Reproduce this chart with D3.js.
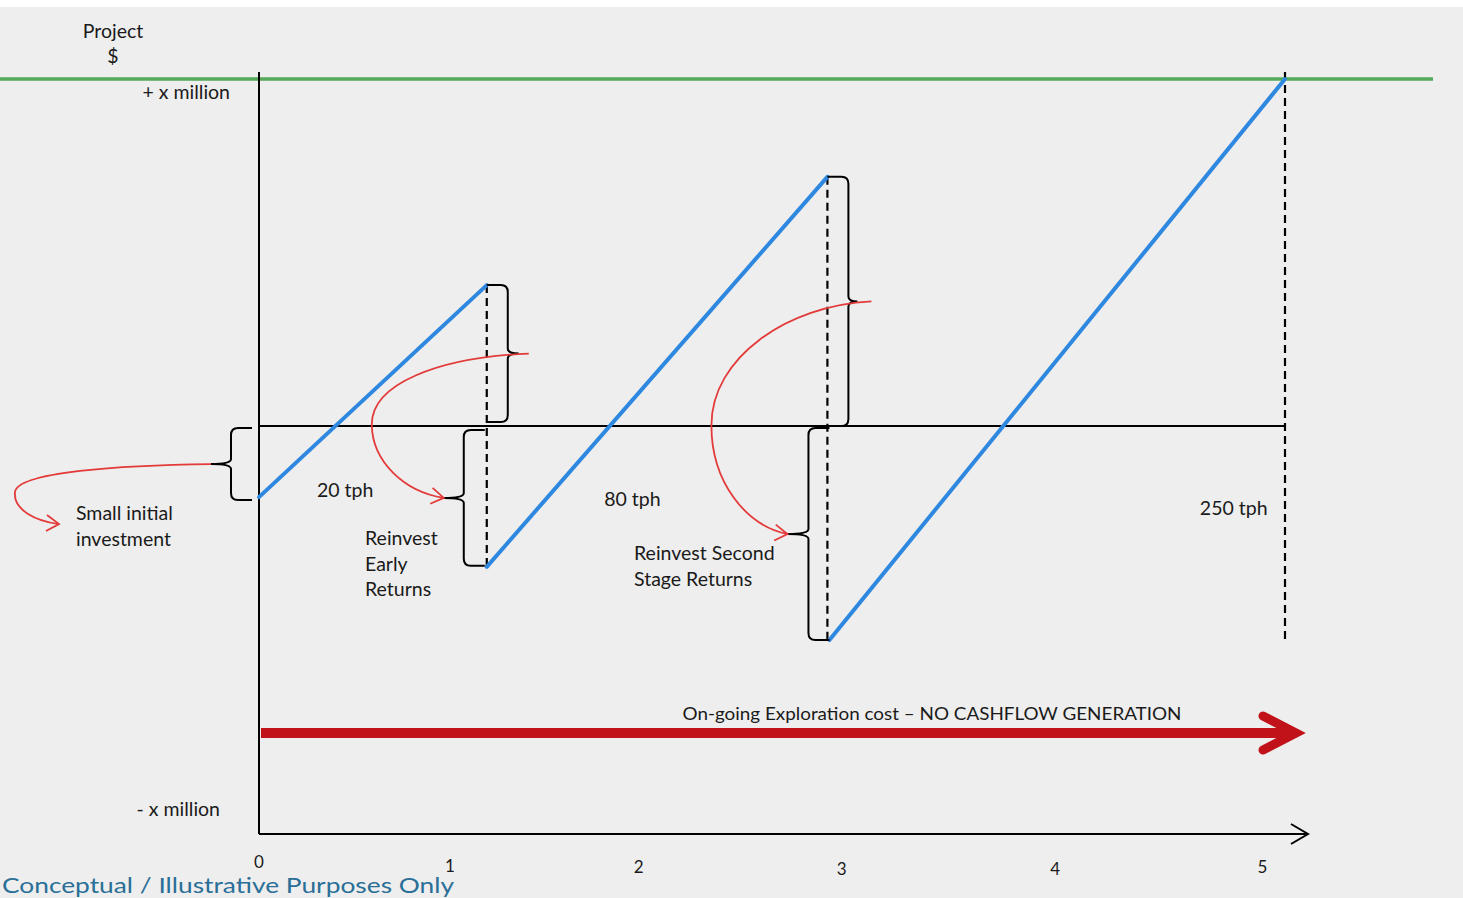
<!DOCTYPE html>
<html>
<head>
<meta charset="utf-8">
<script src="https://cdn.jsdelivr.net/npm/d3@7"></script>
<style>
  html, body { margin: 0; padding: 0; background: #ffffff; overflow: hidden; }
  svg { display: block; }
  text { font-family: Lato, "Open Sans", sans-serif; fill: #1a1a1a; }
</style>
</head>
<body>
<svg id="chart" width="1463" height="898"></svg>
<script>
// ---------------- data ----------------
const xTickLabels = ["0", "1", "2", "3", "4", "5"];
const xTickValues = [0, 0.93, 1.85, 2.84, 3.88, 4.89];
const stageStartX = [0, 1.11, 2.78];
const stageEndX   = [1.11, 2.77, 5];
const stageStartY = [-0.205, -0.406, -0.617];
const stageEndY   = [0.406, 0.718, 1.0];
const stageLabels = ["20 tph", "80 tph", "250 tph"];
const stageLabelX = [0.42, 1.82, 4.75];
const stageLabelY = [-0.187, -0.213, -0.239];
const targetValue = 1.0;
const explorationCostValue = -0.885;
const yLabelText = ["+ x million", "- x million"];
const yLabelValues = [0.96, -1.107];
const yTitleLines = ["Project", "$"];
const annotationLines = [["Small initial", "investment"], ["Reinvest", "Early", "Returns"], ["Reinvest Second", "Stage Returns"]];
const explorationText = "On-going Exploration cost \u2013 NO CASHFLOW GENERATION";
const footerText = "Conceptual / Illustrative Purposes  Only";

// ---------------- setup ----------------
const W = 1463, H = 898;
const svg = d3.select("#chart");
svg.append("rect").attr("x", 0).attr("y", 7).attr("width", W).attr("height", H - 7).attr("fill", "#eeeeee");

const x = d3.scaleLinear().domain([0, 5]).range([259, 1285]);
const y = d3.scaleLinear().domain([-1.176, 1.0]).range([834, 79]);
const yTop = y(1.02);

const BLUE = "#2f88e0", RED = "#e33a3a", DARKRED = "#c1121a", GREEN = "#55a95a";
const FS = 19.5;

// green target line
svg.append("line").attr("x1", 0).attr("x2", 1433).attr("y1", y(targetValue)).attr("y2", y(targetValue))
  .attr("stroke", GREEN).attr("stroke-width", 3.5);

// axes
svg.append("line").attr("x1", x(0)).attr("x2", x(0)).attr("y1", yTop).attr("y2", y.range()[0])
  .attr("stroke", "#000").attr("stroke-width", 2);
svg.append("line").attr("x1", x(0)).attr("x2", 1307).attr("y1", y.range()[0]).attr("y2", y.range()[0])
  .attr("stroke", "#000").attr("stroke-width", 2.2);
svg.append("path").attr("d", `M1291,${y.range()[0]-10} L1308,${y.range()[0]} L1291,${y.range()[0]+10}`)
  .attr("fill", "none").attr("stroke", "#000").attr("stroke-width", 2);

// zero line
svg.append("line").attr("x1", x(0)).attr("x2", x(5)).attr("y1", y(0)).attr("y2", y(0))
  .attr("stroke", "#000").attr("stroke-width", 2);

// x tick labels
svg.selectAll(".xt").data(xTickLabels).join("text").attr("class", "xt")
  .attr("x", (d, i) => x(xTickValues[i])).attr("y", (d, i) => 868 + [0, 4, 5, 7, 7, 5][i])
  .attr("text-anchor", "middle").attr("font-size", 17).text(d => d);

// y title
svg.selectAll(".yt").data(yTitleLines).join("text").attr("class", "yt")
  .attr("x", 113).attr("y", (d, i) => 38 + i * 25).attr("text-anchor", "middle").attr("font-size", FS).text(d => d);

// y labels
svg.selectAll(".yl").data(yLabelText).join("text").attr("class", "yl")
  .attr("x", (d, i) => i === 0 ? 230 : 220).attr("y", (d, i) => y(yLabelValues[i]) + 6)
  .attr("text-anchor", "end").attr("font-size", FS).text(d => d);

// dashed verticals at stage ends
const dashes = stageEndX.map((v, i) => ({
  x: x(v),
  top: i === 2 ? yTop : y(stageEndY[i]),
  bottom: y(i < 2 ? stageStartY[i + 1] : stageStartY[2])
}));
svg.selectAll(".dash").data(dashes).join("line").attr("class", "dash")
  .attr("x1", d => d.x).attr("x2", d => d.x).attr("y1", d => d.top).attr("y2", d => d.bottom)
  .attr("stroke", "#000").attr("stroke-width", 2.2).attr("stroke-dasharray", "8,5");

// blue cash lines
const stages = stageStartX.map((v, i) => [[v, stageStartY[i]], [stageEndX[i], stageEndY[i]]]);
svg.selectAll(".stage").data(stages).join("path").attr("class", "stage")
  .attr("d", d3.line().x(d => x(d[0])).y(d => y(d[1])))
  .attr("stroke", BLUE).attr("stroke-width", 4).attr("fill", "none").attr("stroke-linecap", "round");

// braces
function bracePath(xe, y1, y2, dir, depth, tip) {
  const xs = xe + dir * depth, ym = (y1 + y2) / 2, r = 7;
  return `M${xe},${y1} L${xs - dir * r},${y1} Q${xs},${y1} ${xs},${y1 + r} L${xs},${ym - 5} ` +
         `Q${xs},${ym} ${xs + dir * tip},${ym} Q${xs},${ym} ${xs},${ym + 5} ` +
         `L${xs},${y2 - r} Q${xs},${y2} ${xs - dir * r},${y2} L${xe},${y2}`;
}
const braces = [
  { xe: x(0) - 7, y1: y(0) + 2, y2: y(stageStartY[0]) + 3, dir: -1, tip: 20 },
  { xe: x(stageEndX[0]), y1: y(stageEndY[0]), y2: y(0) - 4, dir: 1, tip: 11 },
  { xe: x(stageEndX[0]) - 2, y1: y(0) + 4, y2: y(stageStartY[1]) - 1, dir: -1, tip: 20 },
  { xe: x(stageEndX[1]), y1: y(stageEndY[1]), y2: y(0), dir: 1, tip: 9 },
  { xe: x(stageStartX[2]), y1: y(0) + 2, y2: y(stageStartY[2]), dir: -1, tip: 21 }
];
svg.selectAll(".brace").data(braces).join("path").attr("class", "brace")
  .attr("d", d => bracePath(d.xe, d.y1, d.y2, d.dir, 21, d.tip))
  .attr("fill", "none").attr("stroke", "#000").attr("stroke-width", 2);

// red curved arrows (from brace tips)
function tipOf(b) { return [b.xe + b.dir * (21 + b.tip), (b.y1 + b.y2) / 2]; }
const t0 = tipOf(braces[0]), t1 = tipOf(braces[1]), t2 = tipOf(braces[2]), t3 = tipOf(braces[3]), t4 = tipOf(braces[4]);
const curves = [
  { d: `M${t0[0]},${t0[1]} C${t0[0]-90},${t0[1]+1} ${t0[0]-194},${t0[1]+8} ${t0[0]-196},${t0[1]+28} C${t0[0]-198},${t0[1]+46} ${t0[0]-175},${t0[1]+57} ${t0[0]-152},${t0[1]+60}`, end: [t0[0]-152, t0[1]+60], ang: 10 },
  { d: `M${t1[0]+10},${t1[1]} C${t1[0]-80},${t1[1]+4} ${t1[0]-148},${t1[1]+30} ${t1[0]-147},${t1[1]+72} C${t1[0]-146},${t1[1]+108} ${t1[0]-115},${t1[1]+138} ${t2[0]},${t2[1]}`, end: [t2[0], t2[1]], ang: 15 },
  { d: `M${t3[0]+14},${t3[1]} C${t3[0]-70},${t3[1]+4} ${t3[0]-146},${t3[1]+56} ${t3[0]-146},${t3[1]+124} C${t3[0]-146},${t3[1]+180} ${t3[0]-112},${t3[1]+224} ${t4[0]},${t4[1]}`, end: [t4[0], t4[1]], ang: 12 }
];
svg.selectAll(".curve").data(curves).join("path").attr("class", "curve")
  .attr("d", d => d.d).attr("fill", "none").attr("stroke", RED).attr("stroke-width", 1.8);
svg.selectAll(".chev").data(curves).join("path").attr("class", "chev")
  .attr("d", d => `M${d.end[0]-12},${d.end[1]-9} L${d.end[0]},${d.end[1]} L${d.end[0]-13},${d.end[1]+7}`)
  .attr("transform", d => `rotate(${d.ang - 10},${d.end[0]},${d.end[1]})`)
  .attr("fill", "none").attr("stroke", RED).attr("stroke-width", 1.8);

// annotation text
const annPos = [{ x: 76, y: 520 }, { x: 365, y: 545 }, { x: 634, y: 560 }];
annotationLines.forEach((lines, k) => {
  svg.append("g").selectAll("text").data(lines).join("text")
    .attr("x", annPos[k].x).attr("y", (d, i) => annPos[k].y + i * 25.5)
    .attr("font-size", FS).text(d => d);
});

// stage labels
svg.selectAll(".sl").data(stageLabels).join("text").attr("class", "sl")
  .attr("x", (d, i) => x(stageLabelX[i])).attr("y", (d, i) => y(stageLabelY[i]) + 6)
  .attr("text-anchor", "middle").attr("font-size", FS).text(d => d);

// exploration cost arrow
const ey = y(explorationCostValue);
svg.append("line").attr("x1", x(0) + 2).attr("x2", 1290).attr("y1", ey).attr("y2", ey)
  .attr("stroke", DARKRED).attr("stroke-width", 10);
svg.append("path").attr("d", `M1263,${ey - 17} L1296,${ey} L1263,${ey + 17}`)
  .attr("fill", "none").attr("stroke", DARKRED).attr("stroke-width", 9).attr("stroke-linecap", "round").attr("stroke-linejoin", "miter");
svg.append("text").attr("x", 932).attr("y", ey - 13).attr("text-anchor", "middle")
  .attr("font-size", 18).attr("textLength", 499).attr("lengthAdjust", "spacingAndGlyphs").text(explorationText);

// footer
svg.append("text").attr("x", 2).attr("y", 893).attr("text-anchor", "start")
  .attr("font-family", "'Open Sans', sans-serif").attr("font-size", 21).style("fill", "#2a6f97")
  .attr("textLength", 452).attr("lengthAdjust", "spacingAndGlyphs").text(footerText);
</script>
</body>
</html>
